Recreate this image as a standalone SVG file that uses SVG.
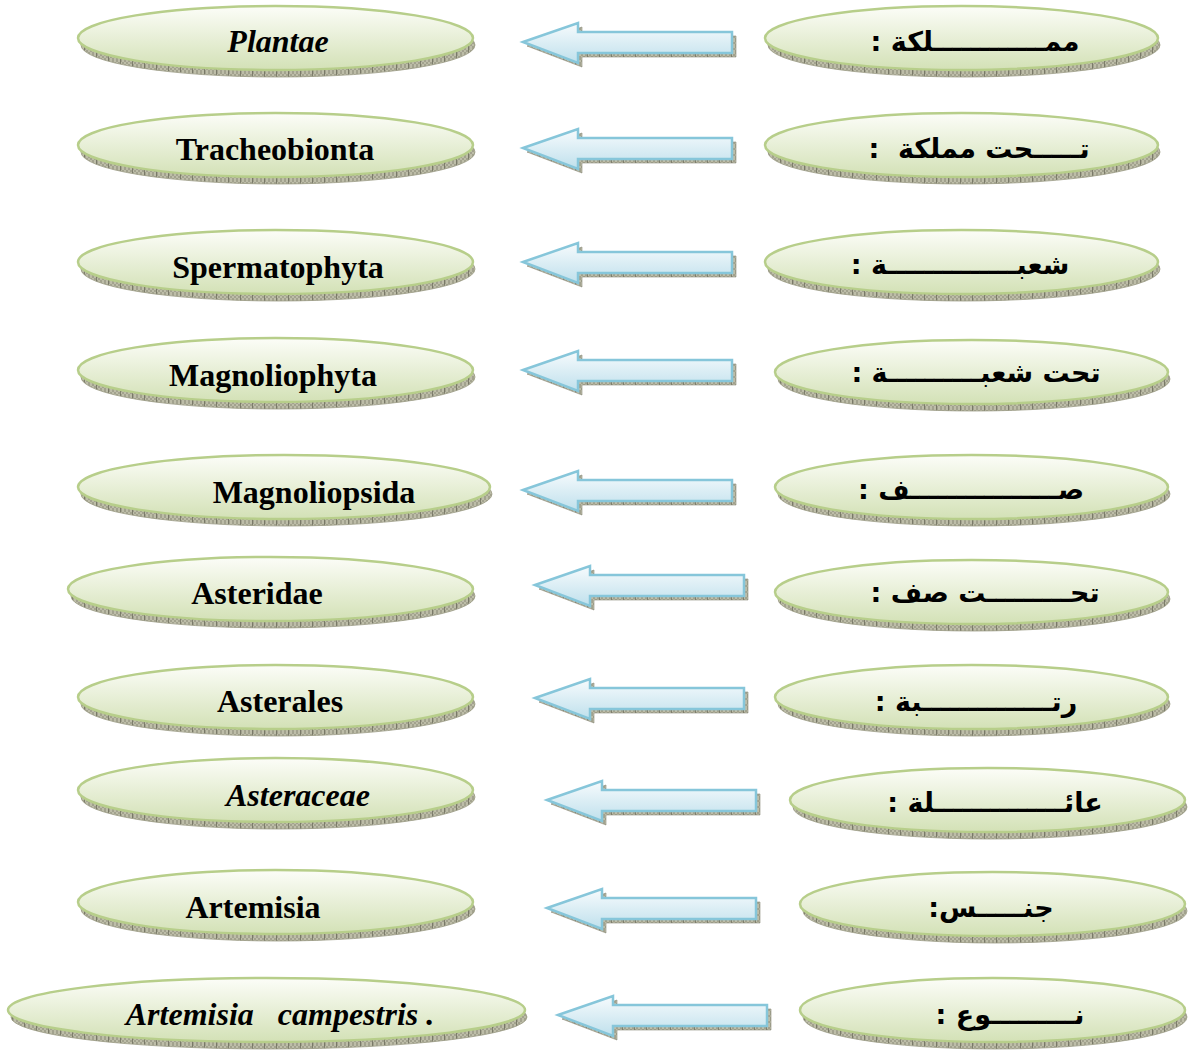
<svg xmlns="http://www.w3.org/2000/svg" width="1188" height="1052" viewBox="0 0 1188 1052">
<defs>
<linearGradient id="gEll" x1="0" y1="0" x2="0" y2="1">
<stop offset="0" stop-color="#fcfdf8"/>
<stop offset="1" stop-color="#d3e1b6"/>
</linearGradient>
<linearGradient id="gArr" x1="0" y1="0" x2="0" y2="1">
<stop offset="0" stop-color="#f7fbfd"/>
<stop offset="1" stop-color="#bfe0ec"/>
</linearGradient>
<pattern id="hatch" width="12" height="6" patternUnits="userSpaceOnUse">
<rect width="12" height="6" fill="#bdbda8"/>
<path d="M0 0h2v2h-2zM4 0h2v2h-2zM8 0h2v2h-2zM2 2h2v2h-2zM6 2h2v2h-2zM10 2h2v2h-2zM0 4h2v2h-2zM4 4h2v2h-2zM8 4h2v2h-2z" fill="#a2a28e"/>
<path d="M0.5 0v6" stroke="#6e6e5e" stroke-width="0.8"/>
</pattern>
<path id="arrow" d="M0 0 L55 -19 L55 -10 L209 -10 L209 11 L55 11 L55 21 Z"/>
</defs>
<style>
.bev{fill:url(#hatch);stroke:#9a9a84;stroke-width:0.8}
.nd{fill:url(#gEll);stroke:#b7ce8a;stroke-width:2.5}
.lt{font-family:"Liberation Serif","Times New Roman",serif;font-weight:bold;font-size:32px;fill:#000;text-anchor:middle}
.it{font-style:italic}
.ar{font-family:"DejaVu Sans",sans-serif;font-weight:bold;font-size:27px;fill:#000;text-anchor:middle;direction:rtl;unicode-bidi:embed}
.ash{fill:url(#hatch);stroke:#8a8a78;stroke-width:0.6}
.arr{fill:url(#gArr);stroke:#86c6da;stroke-width:2.5;stroke-linejoin:miter}
</style>
<rect width="1188" height="1052" fill="#ffffff"/>

<g id="connectors">
<g transform="translate(523,42)"><use href="#arrow" class="ash" transform="translate(4,4)"/><use href="#arrow" class="arr"/></g>
<g transform="translate(523,148)"><use href="#arrow" class="ash" transform="translate(4,4)"/><use href="#arrow" class="arr"/></g>
<g transform="translate(523,262)"><use href="#arrow" class="ash" transform="translate(4,4)"/><use href="#arrow" class="arr"/></g>
<g transform="translate(523,370)"><use href="#arrow" class="ash" transform="translate(4,4)"/><use href="#arrow" class="arr"/></g>
<g transform="translate(523,490)"><use href="#arrow" class="ash" transform="translate(4,4)"/><use href="#arrow" class="arr"/></g>
<g transform="translate(535,585)"><use href="#arrow" class="ash" transform="translate(4,4)"/><use href="#arrow" class="arr"/></g>
<g transform="translate(535,698)"><use href="#arrow" class="ash" transform="translate(4,4)"/><use href="#arrow" class="arr"/></g>
<g transform="translate(547,800)"><use href="#arrow" class="ash" transform="translate(4,4)"/><use href="#arrow" class="arr"/></g>
<g transform="translate(547,908)"><use href="#arrow" class="ash" transform="translate(4,4)"/><use href="#arrow" class="arr"/></g>
<g transform="translate(558,1015)"><use href="#arrow" class="ash" transform="translate(4,4)"/><use href="#arrow" class="arr"/></g>
</g>

<!-- left column -->
<g id="n-plantae"><ellipse class="bev" cx="278" cy="45" rx="197" ry="32"/><ellipse class="nd" cx="275.5" cy="38" rx="197.5" ry="32"/><text class="lt it" x="278" y="52">Plantae</text></g>
<g id="n-tracheobionta"><ellipse class="bev" cx="278" cy="152" rx="197" ry="32"/><ellipse class="nd" cx="275.5" cy="145" rx="197.5" ry="32"/><text class="lt" x="275" y="160">Tracheobionta</text></g>
<g id="n-spermatophyta"><ellipse class="bev" cx="278" cy="269" rx="197" ry="32"/><ellipse class="nd" cx="275.5" cy="262" rx="197.5" ry="32"/><text class="lt" x="278" y="278">Spermatophyta</text></g>
<g id="n-magnoliophyta"><ellipse class="bev" cx="278" cy="377" rx="197" ry="32"/><ellipse class="nd" cx="275.5" cy="370" rx="197.5" ry="32"/><text class="lt" x="273" y="386">Magnoliophyta</text></g>
<g id="n-magnoliopsida"><ellipse class="bev" cx="286.5" cy="494" rx="205.5" ry="32"/><ellipse class="nd" cx="284" cy="487" rx="206" ry="32"/><text class="lt" x="314" y="503">Magnoliopsida</text></g>
<g id="n-asteridae"><ellipse class="bev" cx="273" cy="596" rx="202" ry="32"/><ellipse class="nd" cx="270.5" cy="589" rx="202.5" ry="32"/><text class="lt" x="257" y="604">Asteridae</text></g>
<g id="n-asterales"><ellipse class="bev" cx="278" cy="704" rx="197" ry="32"/><ellipse class="nd" cx="275.5" cy="697" rx="197.5" ry="32"/><text class="lt" x="280" y="712">Asterales</text></g>
<g id="n-asteraceae"><ellipse class="bev" cx="278" cy="797" rx="197" ry="32"/><ellipse class="nd" cx="275.5" cy="790" rx="197.5" ry="32"/><text class="lt it" x="298" y="806">Asteraceae</text></g>
<g id="n-artemisia"><ellipse class="bev" cx="278" cy="909" rx="197" ry="32"/><ellipse class="nd" cx="275.5" cy="902" rx="197.5" ry="32"/><text class="lt" x="253" y="918">Artemisia</text></g>
<g id="n-species"><ellipse class="bev" cx="269" cy="1017" rx="258" ry="32"/><ellipse class="nd" cx="266.5" cy="1010" rx="258.5" ry="32"/><text class="lt it" x="280" y="1025" xml:space="preserve">Artemisia   campestris .</text></g>

<!-- right column -->
<g id="r-kingdom"><ellipse class="bev" cx="964" cy="45" rx="196" ry="32"/><ellipse class="nd" cx="961.5" cy="38" rx="196.5" ry="32"/><text class="ar" x="975" y="51">ممــــــــــــلكة :</text></g>
<g id="r-subkingdom"><ellipse class="bev" cx="964" cy="152" rx="196" ry="32"/><ellipse class="nd" cx="961.5" cy="145" rx="196.5" ry="32"/><text class="ar" x="979" y="158" xml:space="preserve">تـــــحت مملكة  :</text></g>
<g id="r-division"><ellipse class="bev" cx="964" cy="269" rx="196" ry="32"/><ellipse class="nd" cx="961.5" cy="262" rx="196.5" ry="32"/><text class="ar" x="960" y="274">شعبــــــــــــــة :</text></g>
<g id="r-subdivision"><ellipse class="bev" cx="974" cy="379" rx="196" ry="32"/><ellipse class="nd" cx="971.5" cy="372" rx="196.5" ry="32"/><text class="ar" x="976" y="382">تحت شعبــــــــــة :</text></g>
<g id="r-class"><ellipse class="bev" cx="974" cy="494" rx="196" ry="32"/><ellipse class="nd" cx="971.5" cy="487" rx="196.5" ry="32"/><text class="ar" x="971" y="499">صــــــــــــــــف :</text></g>
<g id="r-subclass"><ellipse class="bev" cx="974" cy="599" rx="196" ry="32"/><ellipse class="nd" cx="971.5" cy="592" rx="196.5" ry="32"/><text class="ar" x="985" y="602">تحـــــــــت صف :</text></g>
<g id="r-order"><ellipse class="bev" cx="974" cy="704" rx="196" ry="32"/><ellipse class="nd" cx="971.5" cy="697" rx="196.5" ry="32"/><text class="ar" x="976" y="711">رتــــــــــــــبة :</text></g>
<g id="r-family"><ellipse class="bev" cx="990" cy="807" rx="197" ry="32"/><ellipse class="nd" cx="987.5" cy="800" rx="197.5" ry="32"/><text class="ar" x="995" y="812">عائــــــــــــــلة :</text></g>
<g id="r-genus"><ellipse class="bev" cx="995" cy="911" rx="192" ry="32"/><ellipse class="nd" cx="992.5" cy="904" rx="192.5" ry="32"/><text class="ar" x="991" y="917">جنـــــس:</text></g>
<g id="r-species"><ellipse class="bev" cx="995" cy="1017" rx="192" ry="32"/><ellipse class="nd" cx="992.5" cy="1010" rx="192.5" ry="32"/><text class="ar" x="1010" y="1024">نـــــــــوع :</text></g>
</svg>
